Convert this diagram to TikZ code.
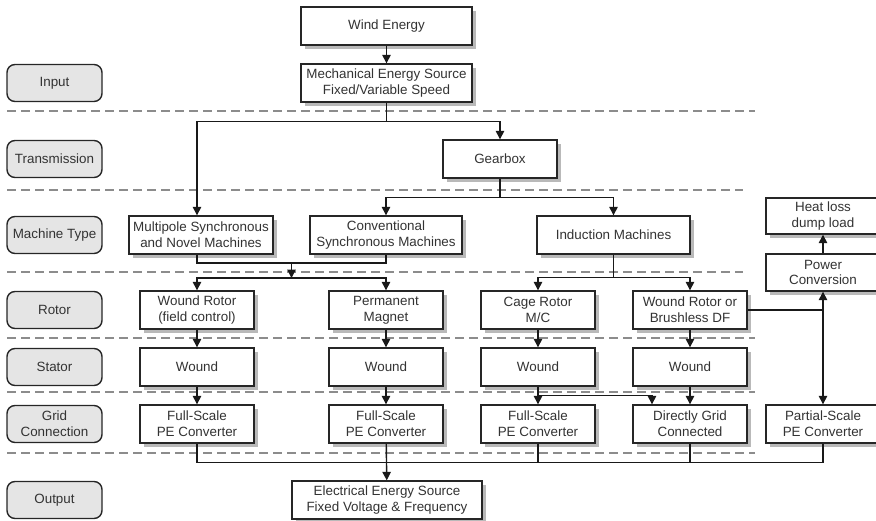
\documentclass[tikz,border=0pt]{standalone}
\usepackage{fontspec}
\setmainfont{Liberation Sans}
\usetikzlibrary{arrows.meta,shadows}

\tikzset{
	box/.style={draw=black!85, line width=1.4pt, fill=white, align=center, inner sep=0pt,
		minimum width=114pt, minimum height=38pt, text=black!80,
		drop shadow={shadow xshift=3.5pt, shadow yshift=-3.5pt, fill=black!50, opacity=0.55}},
	level/.style={draw=black!85, line width=1.4pt, fill=black!10, rounded corners=8pt, align=center,
		inner sep=0pt, minimum width=95pt, minimum height=37pt, text=black!80},
	sep/.style={draw=black!45, line width=1.5pt, dash pattern=on 9pt off 5pt},
	wire/.style={draw=black!90, line width=1.4pt},
	arr/.style={wire, -{Triangle[length=8.5pt,width=8.5pt]}},
	arrboth/.style={wire, {Triangle[length=8.5pt,width=8.5pt]}-{Triangle[length=8.5pt,width=8.5pt]}},
}

\begin{document}
\begin{tikzpicture}[x=1pt, y=-1pt, font=\fontsize{13.4}{15.7}\selectfont]
		%%%%% START %%%%%
		\useasboundingbox (0,0) rectangle (876,520);
		
		% row separators
		\draw[sep] (7,111) -- (755,111);
		\draw[sep] (7,190) -- (743,190);
		\draw[sep] (7,272) -- (743,272);
		\draw[sep] (7,338) -- (755,338);
		\draw[sep] (7,392) -- (755,392);
		\draw[sep] (7,453) -- (755,453);
		
		% level labels
		\node[level] (lin) at (54.5,83) {Input};
		\node[level] (ltr) at (54.5,159) {Transmission};
		\node[level] (lmt) at (54.5,235) {Machine Type};
		\node[level] (lro) at (54.5,310) {Rotor};
		\node[level] (lst) at (54.5,367) {Stator};
		\node[level] (lgc) at (54.5,424) {Grid\\Connection};
		\node[level] (lout) at (54.5,500) {Output};
		
		% boxes
		\node[box, minimum width=171pt] (wind) at (386.5,26) {Wind Energy};
		\node[box, minimum width=171pt] (mech) at (386.5,83) {Mechanical Energy Source\\Fixed/Variable Speed};
		\node[box] (gear) at (500,159) {Gearbox};
		\node[box, minimum width=144pt] (multi) at (201,235) {Multipole Synchronous\\and Novel Machines};
		\node[box, minimum width=152pt] (conv) at (386,235) {Conventional\\Synchronous Machines};
		\node[box, minimum width=153pt] (induc) at (613.5,235) {Induction Machines};
		\node[box, minimum height=36pt] (heat) at (823,216) {Heat loss\\dump load};
		\node[box, minimum height=37pt] (power) at (823,272.5) {Power\\Conversion};
		
		\node[box] (wrf) at (197,310) {Wound Rotor\\(field control)};
		\node[box] (pm) at (386,310) {Permanent\\Magnet};
		\node[box] (cage) at (538,310) {Cage Rotor\\M/C};
		\node[box] (wrb) at (690,310) {Wound Rotor or\\Brushless DF};
		
		\node[box] (st1) at (197,367) {Wound};
		\node[box] (st2) at (386,367) {Wound};
		\node[box] (st3) at (538,367) {Wound};
		\node[box] (st4) at (690,367) {Wound};
		
		\node[box] (gr1) at (197,424) {Full-Scale\\PE Converter};
		\node[box] (gr2) at (386,424) {Full-Scale\\PE Converter};
		\node[box] (gr3) at (538,424) {Full-Scale\\PE Converter};
		\node[box] (gr4) at (690,424) {Directly Grid\\Connected};
		\node[box] (partial) at (823,424) {Partial-Scale\\PE Converter};
		
		\node[box, minimum width=190pt] (out) at (387,500) {Electrical Energy Source\\Fixed Voltage \& Frequency};
		
		% connectors
		\draw[arr] (wind) -- (mech);
		\draw[arr] (mech.south) -- ++(0,19) -| (multi.north -| wrf.north);
		\draw[arr] (mech.south) -- ++(0,19) -| (gear.north);
		\draw[arr] (gear.south) -- ++(0,19) -| (conv.north);
		\draw[arr] (gear.south) -- ++(0,19) -| (induc.north);
		
		\coordinate (mj) at (291.5,263);
		\coordinate (rj) at (291.5,278);
		\draw[wire] (multi.south -| wrf.north) |- (mj) -| (conv.south);
		\draw[arr] (mj) -- (rj);
		\draw[arr] (rj) -| (wrf.north);
		\draw[arr] (rj) -| (pm.north);
		\draw[arr] (induc.south) -- ++(0,23) -| (cage.north);
		\draw[arr] (induc.south) -- ++(0,23) -| (wrb.north);
		
		\draw[wire] (wrb.east) -- (wrb.east -| power.south);
		\draw[arrboth] (power.south) -- (partial.north);
		\draw[arr] (power) -- (heat);
		
		\foreach \i/\r in {1/wrf,2/pm,3/cage,4/wrb} {
			\draw[arr] (\r) -- (st\i);
			\draw[arr] (st\i) -- (gr\i);
		}
		\draw[arr] (st3.south) -- ++(0,9) -| ([xshift=-38pt]gr4.north);
		
		\draw[wire] (gr1.south) -- ++(0,19) -| (partial.south);
		\draw[wire] (gr3.south) -- ++(0,19);
		\draw[wire] (gr4.south) -- ++(0,19);
		\draw[arr] (gr2) -- (out);
		%%%%% END %%%%%
\end{tikzpicture}
\end{document}
